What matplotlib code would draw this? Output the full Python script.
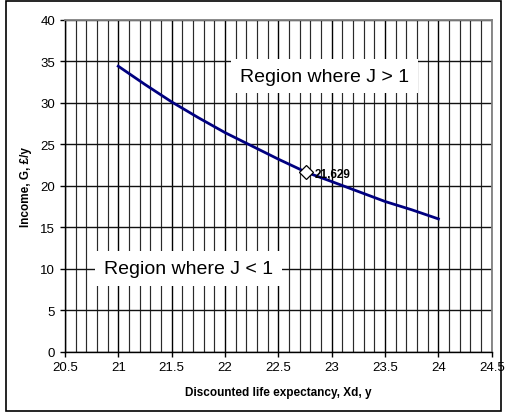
import matplotlib
matplotlib.use("Agg")
import matplotlib.pyplot as plt
from matplotlib.patches import Rectangle
from matplotlib.ticker import MultipleLocator, FormatStrFormatter
import numpy as np

plt.rcParams['font.family'] = ['Liberation Sans', 'DejaVu Sans']

xd = [21.0, 21.25, 21.5, 21.75, 22.0, 22.25, 22.5, 22.76, 23.0, 23.25, 23.5, 23.75, 24.0]
income = [34.4, 32.2, 30.1, 28.2, 26.4, 24.8, 23.2, 21.629, 20.5, 19.3, 18.1, 17.1, 16.0]
marker_x = 22.76
marker_y = 21.629
marker_label = "21,629"
region_labels = ["Region where J > 1", "Region where J < 1"]
region_pos = [(22.93, 33.2), (21.66, 10.0)]

fig = plt.figure(figsize=(5.07, 4.14), dpi=100)
ax = fig.add_axes([0.128, 0.148, 0.842, 0.802])

ax.set_xlim(20.5, 24.5)
ax.set_ylim(0, 40)
ax.xaxis.set_major_locator(MultipleLocator(0.5))
ax.xaxis.set_minor_locator(MultipleLocator(0.1))
ax.yaxis.set_major_locator(MultipleLocator(5))
ax.xaxis.set_major_formatter(FormatStrFormatter('%g'))
ax.yaxis.set_major_formatter(FormatStrFormatter('%g'))
ax.grid(which='minor', axis='x', color='#2a2a2a', lw=0.85)
ax.grid(which='major', axis='x', color='#000000', lw=1.0)
ax.grid(which='major', axis='y', color='#111111', lw=1.0)
ax.tick_params(axis='x', which='minor', length=0)
ax.tick_params(axis='both', which='major', direction='out', length=3.5, width=1, labelsize=9.5, colors='black')
ax.set_axisbelow(True)
for s in ['top', 'right']:
    ax.spines[s].set_color('#808080')
    ax.spines[s].set_linewidth(1.3)
for s in ['left', 'bottom']:
    ax.spines[s].set_color('black')
    ax.spines[s].set_linewidth(1.0)

ax.plot(xd, income, color='#000080', lw=2.0, zorder=3)
ax.plot([marker_x], [marker_y], marker='D', ms=7, mfc='white', mec='black', mew=0.9, zorder=4)
ax.annotate(marker_label, (marker_x, marker_y), xytext=(6, -1), textcoords='offset points',
            fontsize=8.5, fontweight='bold', va='center', ha='left', zorder=5)

for lab, (px, py) in zip(region_labels, region_pos):
    ax.text(px, py, lab, fontsize=14, ha='center', va='center', zorder=5,
            bbox=dict(boxstyle='square,pad=0.45', fc='white', ec='none'))

ax.set_xlabel("Discounted life expectancy, Xd, y", fontsize=8.5, fontweight='bold', labelpad=9)
ax.set_ylabel("Income, G, £/y", fontsize=8.5, fontweight='bold', labelpad=6)

fig.patches.append(Rectangle((0.011, 0.004), 0.978, 0.99, transform=fig.transFigure,
                             fill=False, ec='black', lw=1.2))

fig.savefig("out.png", dpi=100)
